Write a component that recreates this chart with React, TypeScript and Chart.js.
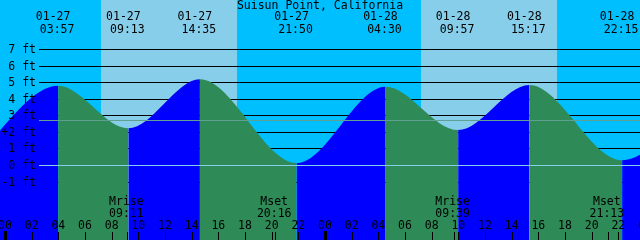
import React, { useEffect, useRef } from "react";
import { Chart, registerables } from "chart.js";
Chart.register(...registerables);

const title = "Suisun Point, California";
// tide extremes (high / low)
const eventDates = ["01-27", "01-27", "01-27", "01-27", "01-28", "01-28", "01-28", "01-28"];
const eventTimes = ["03:57", "09:13", "14:35", "21:50", "04:30", "09:57", "15:17", "22:15"];
const eventHeights = [4.82, 2.25, 5.21, 0.15, 4.76, 2.14, 4.86, 0.32];
// extremes just outside the visible window
const edgeStamps = ["01-26 21:27", "01-29 04:54"];
const edgeHeights = [0.3, 4.8];
// sun
const sunriseStamps = ["01-27 07:11", "01-28 07:11"];
const sunsetStamps = ["01-27 17:23", "01-28 17:24"];
// moon
const moonLabels = ["Mrise", "Mset", "Mrise", "Mset"];
const moonStamps = ["01-27 09:11", "01-27 20:16", "01-28 09:39", "01-28 21:13"];
// axes
const footTicks = [7, 6, 5, 4, 3, 2, 1, 0, -1];
const hourTicks = [0, 2, 4, 6, 8, 10, 12, 14, 16, 18, 20, 22, 24, 26, 28, 30, 32, 34, 36, 38, 40, 42, 44, 46, 48];
const meanLevel = 2.73;

const X_MIN = -0.41;
const X_MAX = 47.59;
const Y_MIN = -4.496;
const Y_MAX = 9.988;

const NIGHT = "#00BFFF";
const DAY = "#87CEEB";
const FLOOD = "#0000FF";
const EBB = "#2E8B57";
const FONT = "11.5px 'DejaVu Sans Mono', monospace";

function toHours(stamp: string): number {
  const [md, hm] = stamp.split(" ");
  const day = parseInt(md.split("-")[1], 10);
  const [h, m] = hm.split(":").map((v) => parseInt(v, 10));
  return (day - 27) * 24 + h + m / 60;
}

const tidePlugin = {
  id: "tideDecor",
  beforeDatasetsDraw(chart: any) {
    const { ctx, scales } = chart;
    const xs = scales.x;
    const ys = scales.y;
    const W = chart.width;
    const H = chart.height;
    ctx.save();
    ctx.fillStyle = NIGHT;
    ctx.fillRect(0, 0, W, H);
    ctx.fillStyle = DAY;
    sunriseStamps.forEach((s, i) => {
      const a = Math.round(xs.getPixelForValue(toHours(s)));
      const b = Math.round(xs.getPixelForValue(toHours(sunsetStamps[i])));
      ctx.fillRect(a, 0, b - a, H);
    });
    ctx.fillStyle = "#000";
    footTicks.forEach((f) => {
      if (f === 0) return;
      const y = Math.floor(ys.getPixelForValue(f));
      ctx.fillRect(39, y, W - 39, 1);
    });
    ctx.restore();
  },
  afterDatasetsDraw(chart: any) {
    const { ctx, scales } = chart;
    const xs = scales.x;
    const ys = scales.y;
    const W = chart.width;
    ctx.save();
    // datum and mean lines
    ctx.fillStyle = DAY;
    ctx.fillRect(39, Math.floor(ys.getPixelForValue(0)), W - 39, 1);
    ctx.fillStyle = "#5fa092";
    ctx.fillRect(39, Math.floor(ys.getPixelForValue(meanLevel)), W - 39, 1);

    ctx.font = FONT;
    ctx.fillStyle = "#000";
    ctx.textBaseline = "middle";
    // foot labels
    ctx.textAlign = "right";
    footTicks.forEach((f) => {
      const y = ys.getPixelForValue(f);
      ctx.fillText(`${f} ft`, 36, y + 0.5);
    });
    ctx.textAlign = "center";
    ctx.fillText("+", 5, ys.getPixelForValue(2) + 0.5);

    // hour ticks
    hourTicks.forEach((h) => {
      const x = xs.getPixelForValue(h);
      const lbl = String(h % 24).padStart(2, "0");
      ctx.fillText(lbl, x - 0.5, 226);
      if (h % 24 === 0) {
        ctx.fillRect(Math.round(x) - 1, 231, 3, 9);
      } else {
        ctx.fillRect(Math.floor(x), 232, 1, 8);
      }
    });
    // moon
    moonStamps.forEach((s, i) => {
      const x = xs.getPixelForValue(toHours(s));
      ctx.fillRect(Math.floor(x), 232, 1, 8);
      ctx.fillText(moonLabels[i], x - 1.5, 202.5);
      ctx.fillText(s.split(" ")[1], x - 1.5, 214);
    });
    // tide event labels
    eventTimes.forEach((t, i) => {
      const x = xs.getPixelForValue(toHours(`${eventDates[i]} ${t}`));
      ctx.fillText(eventDates[i], x - 5, 17.5);
      ctx.fillText(t, x - 1, 30);
    });
    // title
    ctx.fillText(title, 320, 6.5);
    ctx.restore();
  },
};

export default function App() {
  const ref = useRef<HTMLCanvasElement | null>(null);
  useEffect(() => {
    document.body.style.margin = "0";
    if (!ref.current) return;
    const pts: { x: number; y: number }[] = [];
    pts.push({ x: toHours(edgeStamps[0]), y: edgeHeights[0] });
    eventTimes.forEach((t, i) => {
      pts.push({ x: toHours(`${eventDates[i]} ${t}`), y: eventHeights[i] });
    });
    pts.push({ x: toHours(edgeStamps[1]), y: edgeHeights[1] });
    const chart = new Chart(ref.current, {
      type: "line",
      data: {
        datasets: [
          {
            data: pts,
            borderWidth: 0,
            pointRadius: 0,
            fill: "start",
            backgroundColor: FLOOD,
            cubicInterpolationMode: "monotone",
            segment: {
              backgroundColor: (c: any) => (c.p1.parsed.y > c.p0.parsed.y ? FLOOD : EBB),
            },
          } as any,
        ],
      },
      options: {
        responsive: false,
        animation: false,
        layout: { padding: 0 },
        plugins: { legend: { display: false }, tooltip: { enabled: false } },
        scales: {
          x: { type: "linear", min: X_MIN, max: X_MAX, display: false },
          y: { type: "linear", min: Y_MIN, max: Y_MAX, display: false },
        },
      },
      plugins: [tidePlugin],
    });
    return () => chart.destroy();
  }, []);
  return (
    <div style={{ width: 640, height: 240 }}>
      <canvas ref={ref} width={640} height={240} style={{ display: "block", width: 640, height: 240 }} />
    </div>
  );
}
